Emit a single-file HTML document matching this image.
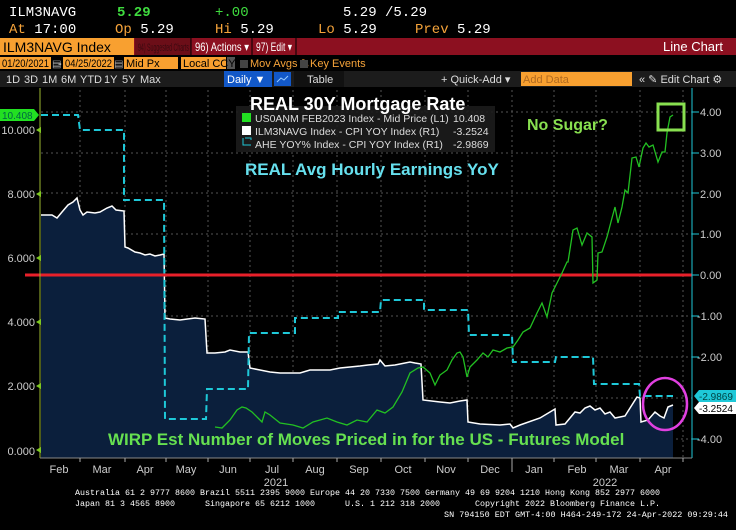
<!DOCTYPE html>
<html><head><meta charset="utf-8"><style>
html,body{margin:0;padding:0;background:#000;width:736px;height:530px;overflow:hidden}
svg{display:block;font-family:"Liberation Sans",sans-serif}
.m{font-family:"Liberation Mono",monospace}
</style></head><body>
<svg width="736" height="530" viewBox="0 0 736 530" xmlns="http://www.w3.org/2000/svg">
<rect width="736" height="530" fill="#000"/>
<g class="m" font-size="14">
<text x="9" y="16" fill="#fff">ILM3NAVG</text>
<text x="117" y="16" fill="#3fdc3f" font-weight="bold">5.29</text>
<text x="215" y="16" fill="#3fdc3f">+.00</text>
<text x="343" y="16" fill="#fff">5.29 /5.29</text>
<text x="9" y="33" fill="#f5a33a">At <tspan fill="#fff">17:00</tspan></text>
<text x="115" y="33" fill="#f5a33a">Op <tspan fill="#fff">5.29</tspan></text>
<text x="215" y="33" fill="#f5a33a">Hi <tspan fill="#fff">5.29</tspan></text>
<text x="318" y="33" fill="#f5a33a">Lo <tspan fill="#fff">5.29</tspan></text>
<text x="415" y="33" fill="#f5a33a">Prev <tspan fill="#fff">5.29</tspan></text>
</g>
<rect x="0" y="38" width="736" height="17" fill="#8c1020"/>
<rect x="0" y="38" width="134" height="17" fill="#f8a030"/>
<rect x="135" y="38" width="56" height="17" fill="#6c0e18"/>
<text x="3" y="52" font-size="14" fill="#000">ILM3NAVG Index</text>
<text x="138" y="51" font-size="11" fill="#3a0a10" textLength="51" lengthAdjust="spacingAndGlyphs">94) Suggested Charts</text>
<line x1="191" y1="38" x2="191" y2="55" stroke="#000"/>
<line x1="252" y1="38" x2="252" y2="55" stroke="#000"/>
<line x1="296" y1="38" x2="296" y2="55" stroke="#000"/>
<text x="195" y="51" font-size="12" fill="#fff" textLength="54" lengthAdjust="spacingAndGlyphs">96) Actions ▾</text>
<text x="256" y="51" font-size="12" fill="#fff" textLength="36" lengthAdjust="spacingAndGlyphs">97) Edit ▾</text>
<text x="663" y="51" font-size="13" fill="#fff">Line Chart</text>
<rect x="0" y="57" width="51" height="12" fill="#f8a030"/><rect x="63" y="57" width="51" height="12" fill="#f8a030"/>
<rect x="124" y="57" width="54" height="12" fill="#f8a030"/><rect x="181" y="57" width="45" height="12" fill="#f8a030"/>
<rect x="227" y="57" width="8" height="12" fill="#555"/>
<text x="2" y="67" font-size="11" fill="#000" textLength="47" lengthAdjust="spacingAndGlyphs">01/20/2021</text>
<text x="52" y="67" font-size="10" fill="#aaa">▤</text><text x="58" y="67" font-size="11" fill="#fff">-</text>
<text x="65" y="67" font-size="11" fill="#000" textLength="47" lengthAdjust="spacingAndGlyphs">04/25/2022</text>
<text x="114" y="67" font-size="10" fill="#aaa">▤</text>
<text x="126" y="67" font-size="11" fill="#000">Mid Px</text>
<text x="183" y="67" font-size="11" fill="#000">Local CCY</text>
<rect x="240" y="60" width="8" height="8" fill="#444"/><text x="250" y="67" font-size="11" fill="#f5a33a">Mov Avgs ✎</text>
<rect x="300" y="60" width="8" height="8" fill="#444"/><text x="310" y="67" font-size="11" fill="#f5a33a">Key Events</text>
<rect x="0" y="71" width="736" height="16" fill="#1c1c1c"/>
<g font-size="11" fill="#ddd">
<text x="6" y="83">1D</text><text x="24" y="83">3D</text><text x="42" y="83">1M</text><text x="61" y="83">6M</text><text x="80" y="83">YTD</text><text x="104" y="83">1Y</text><text x="122" y="83">5Y</text><text x="140" y="83">Max</text>
</g>
<rect x="224" y="71" width="48" height="16" fill="#1258c8"/><text x="227" y="83" font-size="11" fill="#fff">Daily ▼</text>
<rect x="274" y="72" width="17" height="14" fill="#1258c8"/><polyline points="277,82 281,78 284,80 288,76" stroke="#9cf" fill="none"/>
<rect x="294" y="71" width="50" height="16" fill="#111"/><text x="307" y="83" font-size="11" fill="#ddd">Table</text>
<text x="441" y="83" font-size="11" fill="#ddd">+ Quick-Add ▾</text>
<rect x="521" y="72" width="111" height="14" fill="#f8a030"/><text x="523" y="83" font-size="11" fill="#b06a20">Add Data</text>
<text x="639" y="83" font-size="11" fill="#ddd">« ✎ Edit Chart ⚙</text>
<rect x="0" y="88" width="736" height="370" fill="#000"/>
<g stroke="#555" stroke-dasharray="2,3" stroke-width="1">
<line x1="41" y1="112" x2="692" y2="112"/><line x1="41" y1="153" x2="692" y2="153"/><line x1="41" y1="193" x2="692" y2="193"/><line x1="41" y1="234" x2="692" y2="234"/><line x1="41" y1="316" x2="692" y2="316"/><line x1="41" y1="357" x2="692" y2="357"/><line x1="41" y1="398" x2="692" y2="398"/><line x1="41" y1="439" x2="692" y2="439"/>
<line x1="80" y1="90" x2="80" y2="458"/><line x1="125" y1="90" x2="125" y2="458"/><line x1="166" y1="90" x2="166" y2="458"/><line x1="208" y1="90" x2="208" y2="458"/><line x1="250" y1="90" x2="250" y2="458"/><line x1="293" y1="90" x2="293" y2="458"/><line x1="337" y1="90" x2="337" y2="458"/><line x1="381" y1="90" x2="381" y2="458"/><line x1="425" y1="90" x2="425" y2="458"/><line x1="468" y1="90" x2="468" y2="458"/><line x1="512" y1="90" x2="512" y2="458"/><line x1="554" y1="90" x2="554" y2="458"/><line x1="596" y1="90" x2="596" y2="458"/><line x1="640" y1="90" x2="640" y2="458"/><line x1="683" y1="90" x2="683" y2="458"/>
</g>
<polygon fill="#0b1f3c" points="41,458 41,215 52,215 57,218 62,212 68,205 73,202 77,198 80,210 83,215 87,212 95,213 100,212 107,208 112,206 116,210 124,211 125,247 128,248 135,252 140,253 145,255 150,254 155,256 160,255 164,254 165,318 170,319 180,320 195,318 205,319 207,353 215,353 225,352 230,350 240,352 248,352 250,368 260,370 270,372 280,373 300,373 310,370 330,370 340,368 350,367 360,366 368,365 378,364 380,360 385,366 395,365 410,362 415,363 421,364 423,400 440,402 450,403 460,401 467,400 468,422 480,424 500,425 510,424 513,428 520,425 540,418 550,412 555,409 556,425 565,424 575,412 580,413 585,408 590,406 595,410 600,408 605,414 610,412 615,418 625,416 637,397 640,398 641,422 648,420 655,412 660,416 664,418 668,407 673,405 673,458"/>
<polyline fill="none" stroke="#fff" stroke-width="1.5" points="41,215 52,215 57,218 62,212 68,205 73,202 77,198 80,210 83,215 87,212 95,213 100,212 107,208 112,206 116,210 124,211 125,247 128,248 135,252 140,253 145,255 150,254 155,256 160,255 164,254 165,318 170,319 180,320 195,318 205,319 207,353 215,353 225,352 230,350 240,352 248,352 250,368 260,370 270,372 280,373 300,373 310,370 330,370 340,368 350,367 360,366 368,365 378,364 380,360 385,366 395,365 410,362 415,363 421,364 423,400 440,402 450,403 460,401 467,400 468,422 480,424 500,425 510,424 513,428 520,425 540,418 550,412 555,409 556,425 565,424 575,412 580,413 585,408 590,406 595,410 600,408 605,414 610,412 615,418 625,416 637,397 640,398 641,422 648,420 655,412 660,416 664,418 668,407 673,405"/>
<polyline fill="none" stroke="#1ec8d8" stroke-width="2" stroke-dasharray="7,4" points="41,115 78,115 80,130 124,130 124,200 164,200 165,419 206,419 207,389 248,389 249,333 295,333 295,318 338,318 338,312 380,312 381,300 424,300 424,310 468,310 469,335 512,335 513,362 555,362 556,357 593,357 594,384 639,384 640,396 673,396"/>
<line x1="25" y1="275" x2="692" y2="275" stroke="#e8202a" stroke-width="3"/>
<polyline fill="none" stroke="#22c022" stroke-width="1.3" points="215,427 222,428 230,420 237,410 242,407 246,408 252,412 258,418 262,422 265,412 270,415 280,423 293,425 303,428 313,422 327,418 337,422 347,425 357,420 367,422 377,410 385,413 393,407 402,392 410,373 418,368 423,367 430,373 435,385 440,375 447,370 452,360 457,353 460,352 463,357 467,377 470,367 477,360 483,353 488,357 493,350 500,352 507,348 513,347 518,340 523,332 530,328 537,313 542,303 547,317 552,293 557,283 562,273 567,262 568,262 573,230 577,228 582,245 587,233 592,237 593,283 597,280 598,253 602,252 607,237 612,218 615,207 618,223 622,207 625,190 628,193 632,158 636,157 639,167 643,148 646,143 649,147 653,145 658,162 662,152 665,152 667,133 670,117 673,115"/>
<line x1="40" y1="88" x2="40" y2="458" stroke="#9cb830" stroke-width="1"/>
<line x1="692" y1="88" x2="692" y2="458" stroke="#1ec8d8" stroke-width="1"/>
<line x1="40" y1="458" x2="692" y2="458" stroke="#888"/>
<g fill="#ccc" font-size="11" text-anchor="end">
<text x="35" y="134">10.000</text><text x="35" y="198">8.000</text><text x="35" y="262">6.000</text><text x="35" y="326">4.000</text><text x="35" y="390">2.000</text><text x="35" y="455">0.000</text>
</g>
<g fill="#7ec820"><path d="M36,130 l5,-3 v6z"/><path d="M36,194 l5,-3 v6z"/><path d="M36,258 l5,-3 v6z"/><path d="M36,322 l5,-3 v6z"/><path d="M36,386 l5,-3 v6z"/><path d="M36,450 l5,-3 v6z"/></g>
<g fill="#ccc" font-size="11">
<text x="700" y="116">4.00</text><text x="700" y="157">3.00</text><text x="700" y="198">2.00</text><text x="700" y="238">1.00</text><text x="700" y="279">0.00</text><text x="697" y="320">-1.00</text><text x="697" y="361">-2.00</text><text x="697" y="443">-4.00</text>
</g>
<g stroke="#1ec8d8"><line x1="692" y1="112" x2="699" y2="112"/><line x1="692" y1="153" x2="699" y2="153"/><line x1="692" y1="193" x2="699" y2="193"/><line x1="692" y1="234" x2="699" y2="234"/><line x1="692" y1="275" x2="699" y2="275"/><line x1="692" y1="316" x2="699" y2="316"/><line x1="692" y1="357" x2="699" y2="357"/><line x1="692" y1="439" x2="699" y2="439"/></g>
<path d="M0,109 h34 l5,6 l-5,6 h-34z" fill="#22e022"/><text x="2" y="119" font-size="10" fill="#064">10.408</text>
<path d="M694,396 l5,-6 h37 v12 h-37z" fill="#1ec8d8"/><text x="699" y="400" font-size="10" fill="#044">-2.9869</text>
<path d="M694,408 l5,-6 h37 v12 h-37z" fill="#fff"/><text x="699" y="412" font-size="10" fill="#000">-3.2524</text>
<rect x="236" y="106" width="259" height="46" fill="#1c1c1c" opacity="0.9"/>
<rect x="242" y="113" width="9" height="9" fill="#22e022"/><rect x="242" y="126" width="9" height="9" fill="#fff"/>
<path d="M243,138 v7 h8 M245,138 h6 v2" stroke="#1ec8d8" fill="none"/>
<g fill="#ddd" font-size="10.5">
<text x="255" y="122">US0ANM FEB2023 Index - Mid Price (L1)</text><text x="453" y="122">10.408</text>
<text x="255" y="135">ILM3NAVG Index - CPI YOY Index (R1)</text><text x="453" y="135">-3.2524</text>
<text x="255" y="148">AHE YOY% Index - CPI YOY Index (R1)</text><text x="453" y="148">-2.9869</text></g>
<text x="250" y="110" font-size="18" font-weight="bold" fill="#fff">REAL 30Y Mortgage Rate</text>
<text x="245" y="175" font-size="17" font-weight="bold" fill="#66e0ee">REAL Avg Hourly Earnings YoY</text>
<text x="527" y="130" font-size="16" font-weight="bold" fill="#88e050">No Sugar?</text>
<rect x="658" y="104" width="26" height="26" fill="none" stroke="#88e050" stroke-width="3"/>
<ellipse cx="665" cy="404" rx="22" ry="26" fill="none" stroke="#e040e0" stroke-width="2.5"/>
<text x="108" y="445" font-size="17" font-weight="bold" fill="#66e050">WIRP Est Number of Moves Priced in for the US - Futures Model</text>
<g stroke="#aaa"><line x1="80" y1="458" x2="80" y2="462"/><line x1="125" y1="458" x2="125" y2="462"/><line x1="166" y1="458" x2="166" y2="462"/><line x1="208" y1="458" x2="208" y2="462"/><line x1="250" y1="458" x2="250" y2="462"/><line x1="293" y1="458" x2="293" y2="462"/><line x1="337" y1="458" x2="337" y2="462"/><line x1="381" y1="458" x2="381" y2="462"/><line x1="425" y1="458" x2="425" y2="462"/><line x1="468" y1="458" x2="468" y2="462"/><line x1="512" y1="458" x2="512" y2="472"/><line x1="554" y1="458" x2="554" y2="462"/><line x1="596" y1="458" x2="596" y2="462"/><line x1="640" y1="458" x2="640" y2="462"/><line x1="683" y1="458" x2="683" y2="462"/></g>
<g fill="#ccc" font-size="11" text-anchor="middle">
<text x="59" y="473">Feb</text><text x="102" y="473">Mar</text><text x="145" y="473">Apr</text><text x="186" y="473">May</text><text x="228" y="473">Jun</text><text x="272" y="473">Jul</text><text x="315" y="473">Aug</text><text x="359" y="473">Sep</text><text x="403" y="473">Oct</text><text x="446" y="473">Nov</text><text x="490" y="473">Dec</text><text x="534" y="473">Jan</text><text x="577" y="473">Feb</text><text x="619" y="473">Mar</text><text x="663" y="473">Apr</text>
<text x="276" y="486">2021</text><text x="605" y="486">2022</text>
</g>
<g fill="#fff" font-size="8.6" class="m">
<text x="75" y="495" textLength="585" lengthAdjust="spacingAndGlyphs">Australia 61 2 9777 8600 Brazil 5511 2395 9000 Europe 44 20 7330 7500 Germany 49 69 9204 1210 Hong Kong 852 2977 6000</text>
<text x="75" y="506" textLength="100" lengthAdjust="spacingAndGlyphs">Japan 81 3 4565 8900</text>
<text x="205" y="506" textLength="110" lengthAdjust="spacingAndGlyphs">Singapore 65 6212 1000</text>
<text x="345" y="506" textLength="95" lengthAdjust="spacingAndGlyphs">U.S. 1 212 318 2000</text>
<text x="475" y="506" textLength="185" lengthAdjust="spacingAndGlyphs">Copyright 2022 Bloomberg Finance L.P.</text>
<text x="444" y="517" textLength="284" lengthAdjust="spacingAndGlyphs">SN 794150 EDT  GMT-4:00 H464-249-172 24-Apr-2022 09:29:44</text>
</g>
</svg>
</body></html>
